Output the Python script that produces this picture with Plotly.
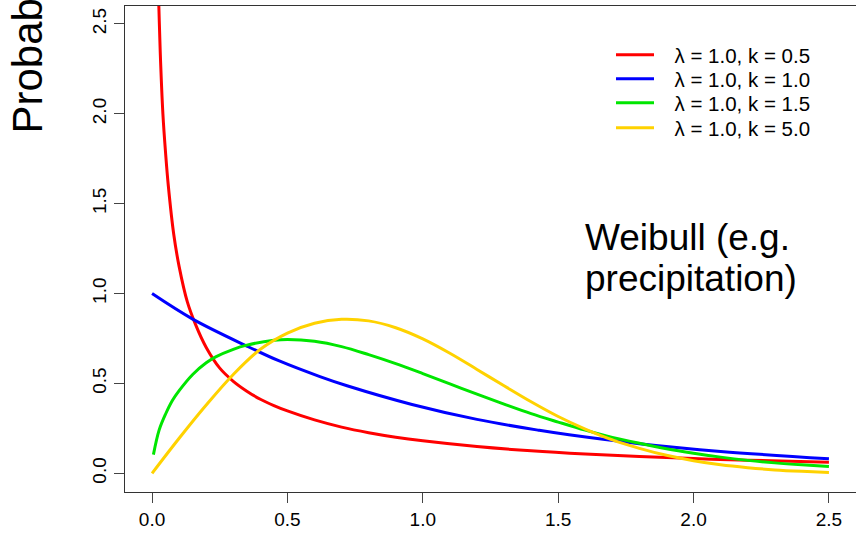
import plotly.graph_objects as go

# ---- data ----
red_x = [0.02, 0.025, 0.03, 0.04, 0.05, 0.06, 0.08, 0.1, 0.13, 0.16, 0.2, 0.25, 0.3, 0.35,
         0.4, 0.45, 0.5, 0.6, 0.7, 0.8, 0.9, 1.0, 1.2, 1.4, 1.6, 1.8, 2.0, 2.2, 2.5]
red_y = [2.85, 2.6, 2.35, 2.0, 1.78, 1.6, 1.33, 1.15, 0.955, 0.83, 0.7, 0.585, 0.512, 0.457,
         0.412, 0.377, 0.347, 0.297, 0.257, 0.226, 0.201, 0.181, 0.149, 0.125, 0.107, 0.093, 0.082, 0.073, 0.062]

blue_x = [0.0, 0.15, 0.35, 0.47, 0.62, 0.72, 0.96, 1.2, 1.43, 1.54, 1.8, 2.1, 2.5]
blue_y = [1.0, 0.858, 0.708, 0.625, 0.538, 0.487, 0.383, 0.3, 0.239, 0.214, 0.165, 0.122, 0.081]

green_x = [0.005, 0.026, 0.05, 0.075, 0.1, 0.15, 0.2, 0.235, 0.3, 0.35, 0.45, 0.5, 0.6, 0.7,
           0.8, 0.9, 1.0, 1.1, 1.2, 1.3, 1.4, 1.5, 1.6, 1.7, 1.8, 1.9, 2.0, 2.1, 2.2, 2.3, 2.4, 2.5]
green_y = [0.104, 0.24, 0.33, 0.405, 0.46, 0.55, 0.615, 0.648, 0.69, 0.713, 0.74, 0.745, 0.735, 0.705,
           0.66, 0.61, 0.555, 0.498, 0.44, 0.385, 0.332, 0.285, 0.24, 0.2, 0.167, 0.137, 0.112, 0.09,
           0.072, 0.058, 0.047, 0.038]

yellow_x = [0.0, 0.1, 0.2, 0.3, 0.4, 0.5, 0.6, 0.7, 0.8, 0.9, 1.0, 1.1, 1.2, 1.3, 1.4, 1.5,
            1.6, 1.7, 1.8, 1.9, 2.0, 2.1, 2.2, 2.3, 2.4, 2.5]
yellow_y = [0.0, 0.195, 0.38, 0.55, 0.69, 0.78, 0.835, 0.857, 0.848, 0.81, 0.748, 0.668, 0.578, 0.487,
            0.398, 0.316, 0.246, 0.186, 0.139, 0.1, 0.07, 0.047, 0.031, 0.019, 0.011, 0.005]

names = ["λ = 1.0, k = 0.5", "λ = 1.0, k = 1.0", "λ = 1.0, k = 1.5", "λ = 1.0, k = 5.0"]
colors = ["#FF0000", "#0000FF", "#00E600", "#FFD200"]

x_ticks = [0.0, 0.5, 1.0, 1.5, 2.0, 2.5]
y_ticks = [0.0, 0.5, 1.0, 1.5, 2.0, 2.5]

FONT = "Liberation Sans, Arial, sans-serif"
PAD = "\u00a0\u00a0\u2009"

fig = go.Figure()
legend_ids = ["legend", "legend2", "legend3", "legend4"]
for xs, ys, nm, c, lg in zip([red_x, blue_x, green_x, yellow_x], [red_y, blue_y, green_y, yellow_y],
                             names, colors, legend_ids):
    fig.add_trace(go.Scatter(x=xs, y=ys, mode="lines", name=PAD + nm, legend=lg,
                             line=dict(color=c, width=3, shape="spline", smoothing=1.0)))

axis_common = dict(showgrid=False, zeroline=False, showline=True, mirror=True,
                   linecolor="#333333", linewidth=1.3, ticks="outside", ticklen=10,
                   tickcolor="#444444", tickwidth=1, tickformat=".1f",
                   tickfont=dict(family=FONT, size=19, color="black"))

row_centers = [55, 79, 103, 128]
legends = {}
for lg, rc in zip(legend_ids, row_centers):
    legends[lg] = dict(x=(611 - 125) / 731, y=(492 - rc) / 486, xanchor="left", yanchor="middle",
                       bgcolor="rgba(0,0,0,0)", itemwidth=38,
                       font=dict(family=FONT, size=20.5, color="black"))

fig.update_layout(
    width=856, height=533,
    margin=dict(l=125, r=0, t=6, b=41),
    paper_bgcolor="white", plot_bgcolor="white",
    font=dict(family=FONT, color="black"),
    xaxis=dict(range=[-0.1, 2.6], tickvals=x_ticks, **axis_common),
    yaxis=dict(range=[-0.104, 2.6], tickvals=y_ticks, tickangle=-90, **axis_common),
    showlegend=True,
    annotations=[
        dict(text="Weibull (e.g.", xref="paper", yref="paper",
             x=(583 - 125) / 731, y=(492 - 215) / 486, xanchor="left", yanchor="top",
             showarrow=False, align="left", font=dict(family=FONT, size=37, color="black")),
        dict(text="precipitation)", xref="paper", yref="paper",
             x=(583 - 125) / 731, y=(492 - 256) / 486, xanchor="left", yanchor="top",
             showarrow=False, align="left", font=dict(family=FONT, size=37, color="black")),
        dict(text="Probability density", xref="paper", yref="paper", textangle=-90,
             x=(27 - 125) / 731, y=(492 - 136) / 486, xanchor="center", yanchor="bottom",
             showarrow=False, font=dict(family=FONT, size=42, color="black")),
    ],
    **legends,
)

fig.write_html("out.html")
